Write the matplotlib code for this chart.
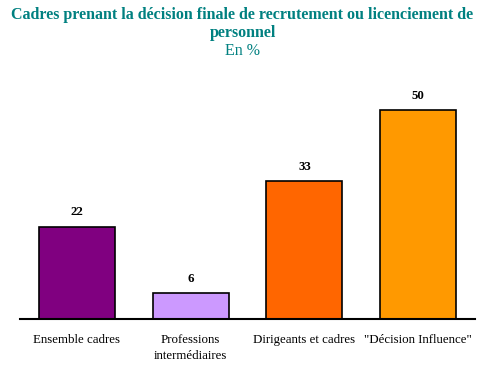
import matplotlib.pyplot as plt

# ── Data ─────────────────────────────────────────────────────────────────────
categories = ["Ensemble cadres", "Professions\nintermédiaires",
              "Dirigeants et cadres", "\"Décision Influence\""]
values = [22, 6, 33, 50]
colors = ["#800080", "#CC99FF", "#FF6600", "#FF9900"]

TEAL = "#008080"
SERIF = "Liberation Serif"

# ── Figure ───────────────────────────────────────────────────────────────────
fig = plt.figure(figsize=(4.96, 3.68), dpi=100)
ax = fig.add_axes([0.0403, 0.1345, 0.9174, 0.680])

x = range(len(values))
ax.bar(x, values, width=0.67, color=colors, edgecolor="black", linewidth=1.2, zorder=2)

for xi, v in zip(x, values):
    ax.annotate(str(v), (xi, v), xytext=(0, 6), textcoords="offset points",
                ha="center", va="bottom", fontsize=9.3, fontweight="bold",
                family=SERIF)

ax.set_xlim(-0.5, len(values) - 0.5)
ax.set_ylim(0, 60)
ax.set_xticks(list(x))
ax.set_xticklabels(categories, family=SERIF, fontsize=9.3, linespacing=1.45)
ax.tick_params(axis="x", length=0, pad=11)
ax.set_yticks([])

for side in ["top", "right", "left"]:
    ax.spines[side].set_visible(False)
ax.spines["bottom"].set_linewidth(1.5)

# ── Title ────────────────────────────────────────────────────────────────────
tx = 242.5 / 496
fig.text(tx, 1 - 15 / 368, "Cadres prenant la décision finale de recrutement ou licenciement de",
         ha="center", va="center", color=TEAL, fontsize=11.5, fontweight="bold", family=SERIF)
fig.text(tx, 1 - 33 / 368, "personnel", ha="center", va="center", color=TEAL,
         fontsize=11.5, fontweight="bold", family=SERIF)
fig.text(tx, 1 - 51 / 368, "En %", ha="center", va="center", color=TEAL,
         fontsize=11.5, family=SERIF)

fig.savefig("out.png", dpi=100)
